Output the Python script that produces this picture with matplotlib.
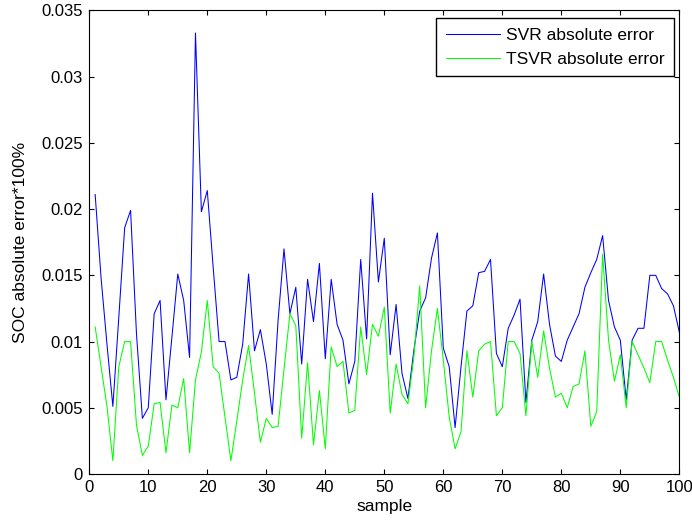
import matplotlib
matplotlib.use("Agg")
import matplotlib.pyplot as plt
from matplotlib.ticker import FuncFormatter

plt.rcParams['font.family'] = ['Liberation Sans', 'DejaVu Sans']

samples = list(range(1, 101))

svr_error = [
    0.0211, 0.0148, 0.0098, 0.0051, 0.0118, 0.0186, 0.0199, 0.0106, 0.0042, 0.0050,
    0.0121, 0.0131, 0.0056, 0.0103, 0.0151, 0.0131, 0.0088, 0.0333, 0.0198, 0.0214,
    0.0156, 0.0100, 0.0100, 0.0071, 0.0073, 0.0098, 0.0151, 0.0093, 0.0109, 0.0083,
    0.0045, 0.0116, 0.0170, 0.0121, 0.0141, 0.0083, 0.0147, 0.0115, 0.0159, 0.0087,
    0.0147, 0.0113, 0.0101, 0.0068, 0.0085, 0.0162, 0.0102, 0.0212, 0.0145, 0.0178,
    0.0090, 0.0128, 0.0076, 0.0057, 0.0093, 0.0123, 0.0133, 0.0163, 0.0182, 0.0095,
    0.0081, 0.0035, 0.0081, 0.0123, 0.0127, 0.0152, 0.0153, 0.0162, 0.0091, 0.0081,
    0.0110, 0.0120, 0.0132, 0.0054, 0.0101, 0.0115, 0.0151, 0.0113, 0.0089, 0.0085,
    0.0101, 0.0111, 0.0121, 0.0141, 0.0152, 0.0162, 0.0180, 0.0131, 0.0111, 0.0101,
    0.0056, 0.0101, 0.0110, 0.0110, 0.0150, 0.0150, 0.0140, 0.0136, 0.0127, 0.0107,
]

tsvr_error = [
    0.0111, 0.0081, 0.0051, 0.0010, 0.0081, 0.0100, 0.0100, 0.0037, 0.0014, 0.0021,
    0.0053, 0.0054, 0.0016, 0.0052, 0.0050, 0.0072, 0.0016, 0.0071, 0.0092, 0.0131,
    0.0081, 0.0076, 0.0043, 0.0010, 0.0040, 0.0071, 0.0097, 0.0061, 0.0024, 0.0042,
    0.0035, 0.0036, 0.0079, 0.0121, 0.0112, 0.0027, 0.0084, 0.0022, 0.0063, 0.0019,
    0.0096, 0.0081, 0.0085, 0.0046, 0.0048, 0.0111, 0.0075, 0.0113, 0.0104, 0.0126,
    0.0046, 0.0083, 0.0060, 0.0053, 0.0088, 0.0142, 0.0050, 0.0093, 0.0125, 0.0086,
    0.0043, 0.0019, 0.0032, 0.0093, 0.0058, 0.0093, 0.0098, 0.0100, 0.0044, 0.0050,
    0.0100, 0.0100, 0.0091, 0.0044, 0.0100, 0.0073, 0.0108, 0.0080, 0.0058, 0.0061,
    0.0050, 0.0066, 0.0068, 0.0093, 0.0036, 0.0047, 0.0166, 0.0101, 0.0070, 0.0090,
    0.0050, 0.0100, 0.0090, 0.0080, 0.0069, 0.0100, 0.0100, 0.0086, 0.0073, 0.0058,
]

x_ticks = [0, 10, 20, 30, 40, 50, 60, 70, 80, 90, 100]
y_ticks = [0, 0.005, 0.01, 0.015, 0.02, 0.025, 0.03, 0.035]

fig = plt.figure(figsize=(6.92, 5.24), dpi=100)
ax = fig.add_axes([0.129, 0.0955, 0.8527, 0.8845])

ax.plot(samples, svr_error, color=(0, 0, 1), linewidth=0.75, label='SVR absolute error')
ax.plot(samples, tsvr_error, color=(0, 1, 0), linewidth=0.75, label='TSVR absolute error')

ax.set_xlim(0, 100)
ax.set_ylim(0, 0.035)
ax.set_xticks(x_ticks)
ax.set_yticks(y_ticks)
ax.yaxis.set_major_formatter(FuncFormatter(lambda v, p: ('%g' % round(v, 4))))
ax.tick_params(direction='in', top=True, right=True, length=3.6, width=0.8,
               labelsize=12, colors='black', pad=4.5)
for s in ax.spines.values():
    s.set_linewidth(0.8)

ax.set_xlabel('sample', fontsize=12.5, labelpad=2.5)
ax.set_ylabel('SOC absolute error*100%', fontsize=12.5, labelpad=9.5)

leg = ax.legend(loc='upper right', bbox_to_anchor=(0.991, 0.983), fontsize=12.5,
                fancybox=False, framealpha=1, edgecolor='black',
                handlelength=3.1, handletextpad=0.35, borderaxespad=0,
                borderpad=0.55, labelspacing=0.5)
leg.get_frame().set_linewidth(1.0)

fig.savefig('out.png', dpi=100)
